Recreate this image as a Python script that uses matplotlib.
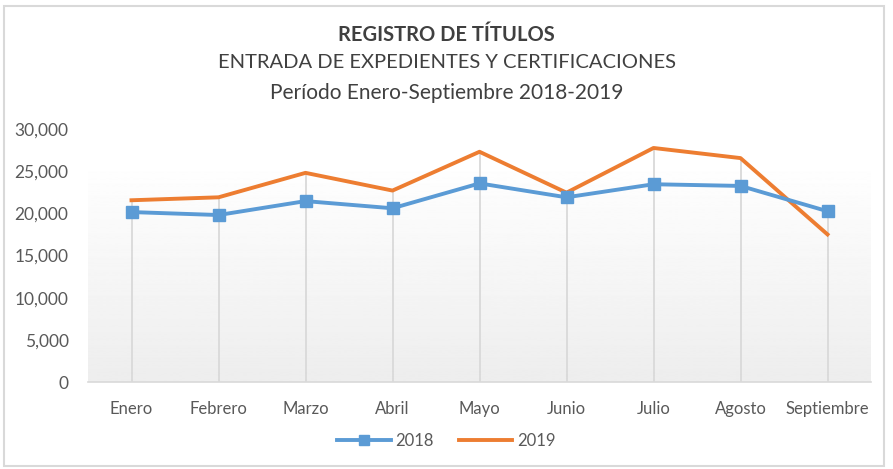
import numpy as np
import matplotlib.pyplot as plt
from matplotlib.patches import Rectangle

meses = ['Enero', 'Febrero', 'Marzo', 'Abril', 'Mayo', 'Junio', 'Julio', 'Agosto', 'Septiembre']
v2018 = [20150, 19800, 21450, 20600, 23550, 21900, 23450, 23250, 20250]
v2019 = [21550, 21900, 24800, 22700, 27300, 22450, 27750, 26550, 17500]

plt.rcParams['font.family'] = ['Lato', 'DejaVu Sans']

fig = plt.figure(figsize=(8.93, 4.69), dpi=100)
ax = fig.add_axes([88/893, 1-382/469, (871-88)/893, (382-129)/469])

x = np.arange(len(meses))

# fondo degradado
grad = np.linspace(0.93, 1.0, 256).reshape(-1, 1)
ax.imshow(grad, cmap='gray', vmin=0, vmax=1, aspect='auto',
          extent=[-0.5, 8.5, 0, 26500], origin='lower', zorder=0)

# lineas verticales hasta el punto mas alto
tops = np.maximum(v2018, v2019)
ax.vlines(x, 0, tops, color='#d9d9d9', lw=1.3, zorder=1)

ax.plot(x, v2018, color='#5B9BD5', lw=2.8, marker='s', ms=8, zorder=3, label='2018')
ax.plot(x, v2019, color='#ED7D31', lw=2.8, zorder=2, label='2019')

ax.set_xlim(-0.5, 8.5)
ax.set_ylim(0, 30000)
ax.set_yticks(np.arange(0, 30001, 5000))
ax.set_yticklabels([f'{v:,}' for v in range(0, 30001, 5000)])
ax.set_xticks(x)
ax.set_xticklabels(meses)
ax.tick_params(axis='y', length=0, labelsize=12.5, colors='#595959', pad=14)
ax.tick_params(axis='x', length=0, labelsize=12, colors='#595959', pad=14)
for s in ['top', 'right', 'left']:
    ax.spines[s].set_visible(False)
ax.spines['bottom'].set_color('#d9d9d9')
ax.spines['bottom'].set_linewidth(1.2)
ax.set_facecolor('none')

fig.text(0.5, 1-35/469, 'REGISTRO DE TÍTULOS', ha='center', va='center',
         fontsize=14.5, fontweight='bold', color='#404040')
fig.text(0.5, 1-63/469, 'ENTRADA DE EXPEDIENTES Y CERTIFICACIONES', ha='center', va='center',
         fontsize=14.5, color='#404040')
fig.text(0.5, 1-93/469, 'Período Enero-Septiembre 2018-2019', ha='center', va='center',
         fontsize=15, color='#404040')

leg = fig.legend(loc='center', bbox_to_anchor=(0.5, 1-441/469), ncol=2, frameon=False,
                 fontsize=12, handlelength=3.2, columnspacing=1.5, handletextpad=0.3,
                 markerscale=0.85)
for t in leg.get_texts():
    t.set_color('#595959')

fig.patches.append(Rectangle((4/893, 3/469), 880/893, 460/469, transform=fig.transFigure,
                             fill=False, edgecolor='#d9d9d9', lw=1.5))

fig.savefig('out.png', dpi=100)
